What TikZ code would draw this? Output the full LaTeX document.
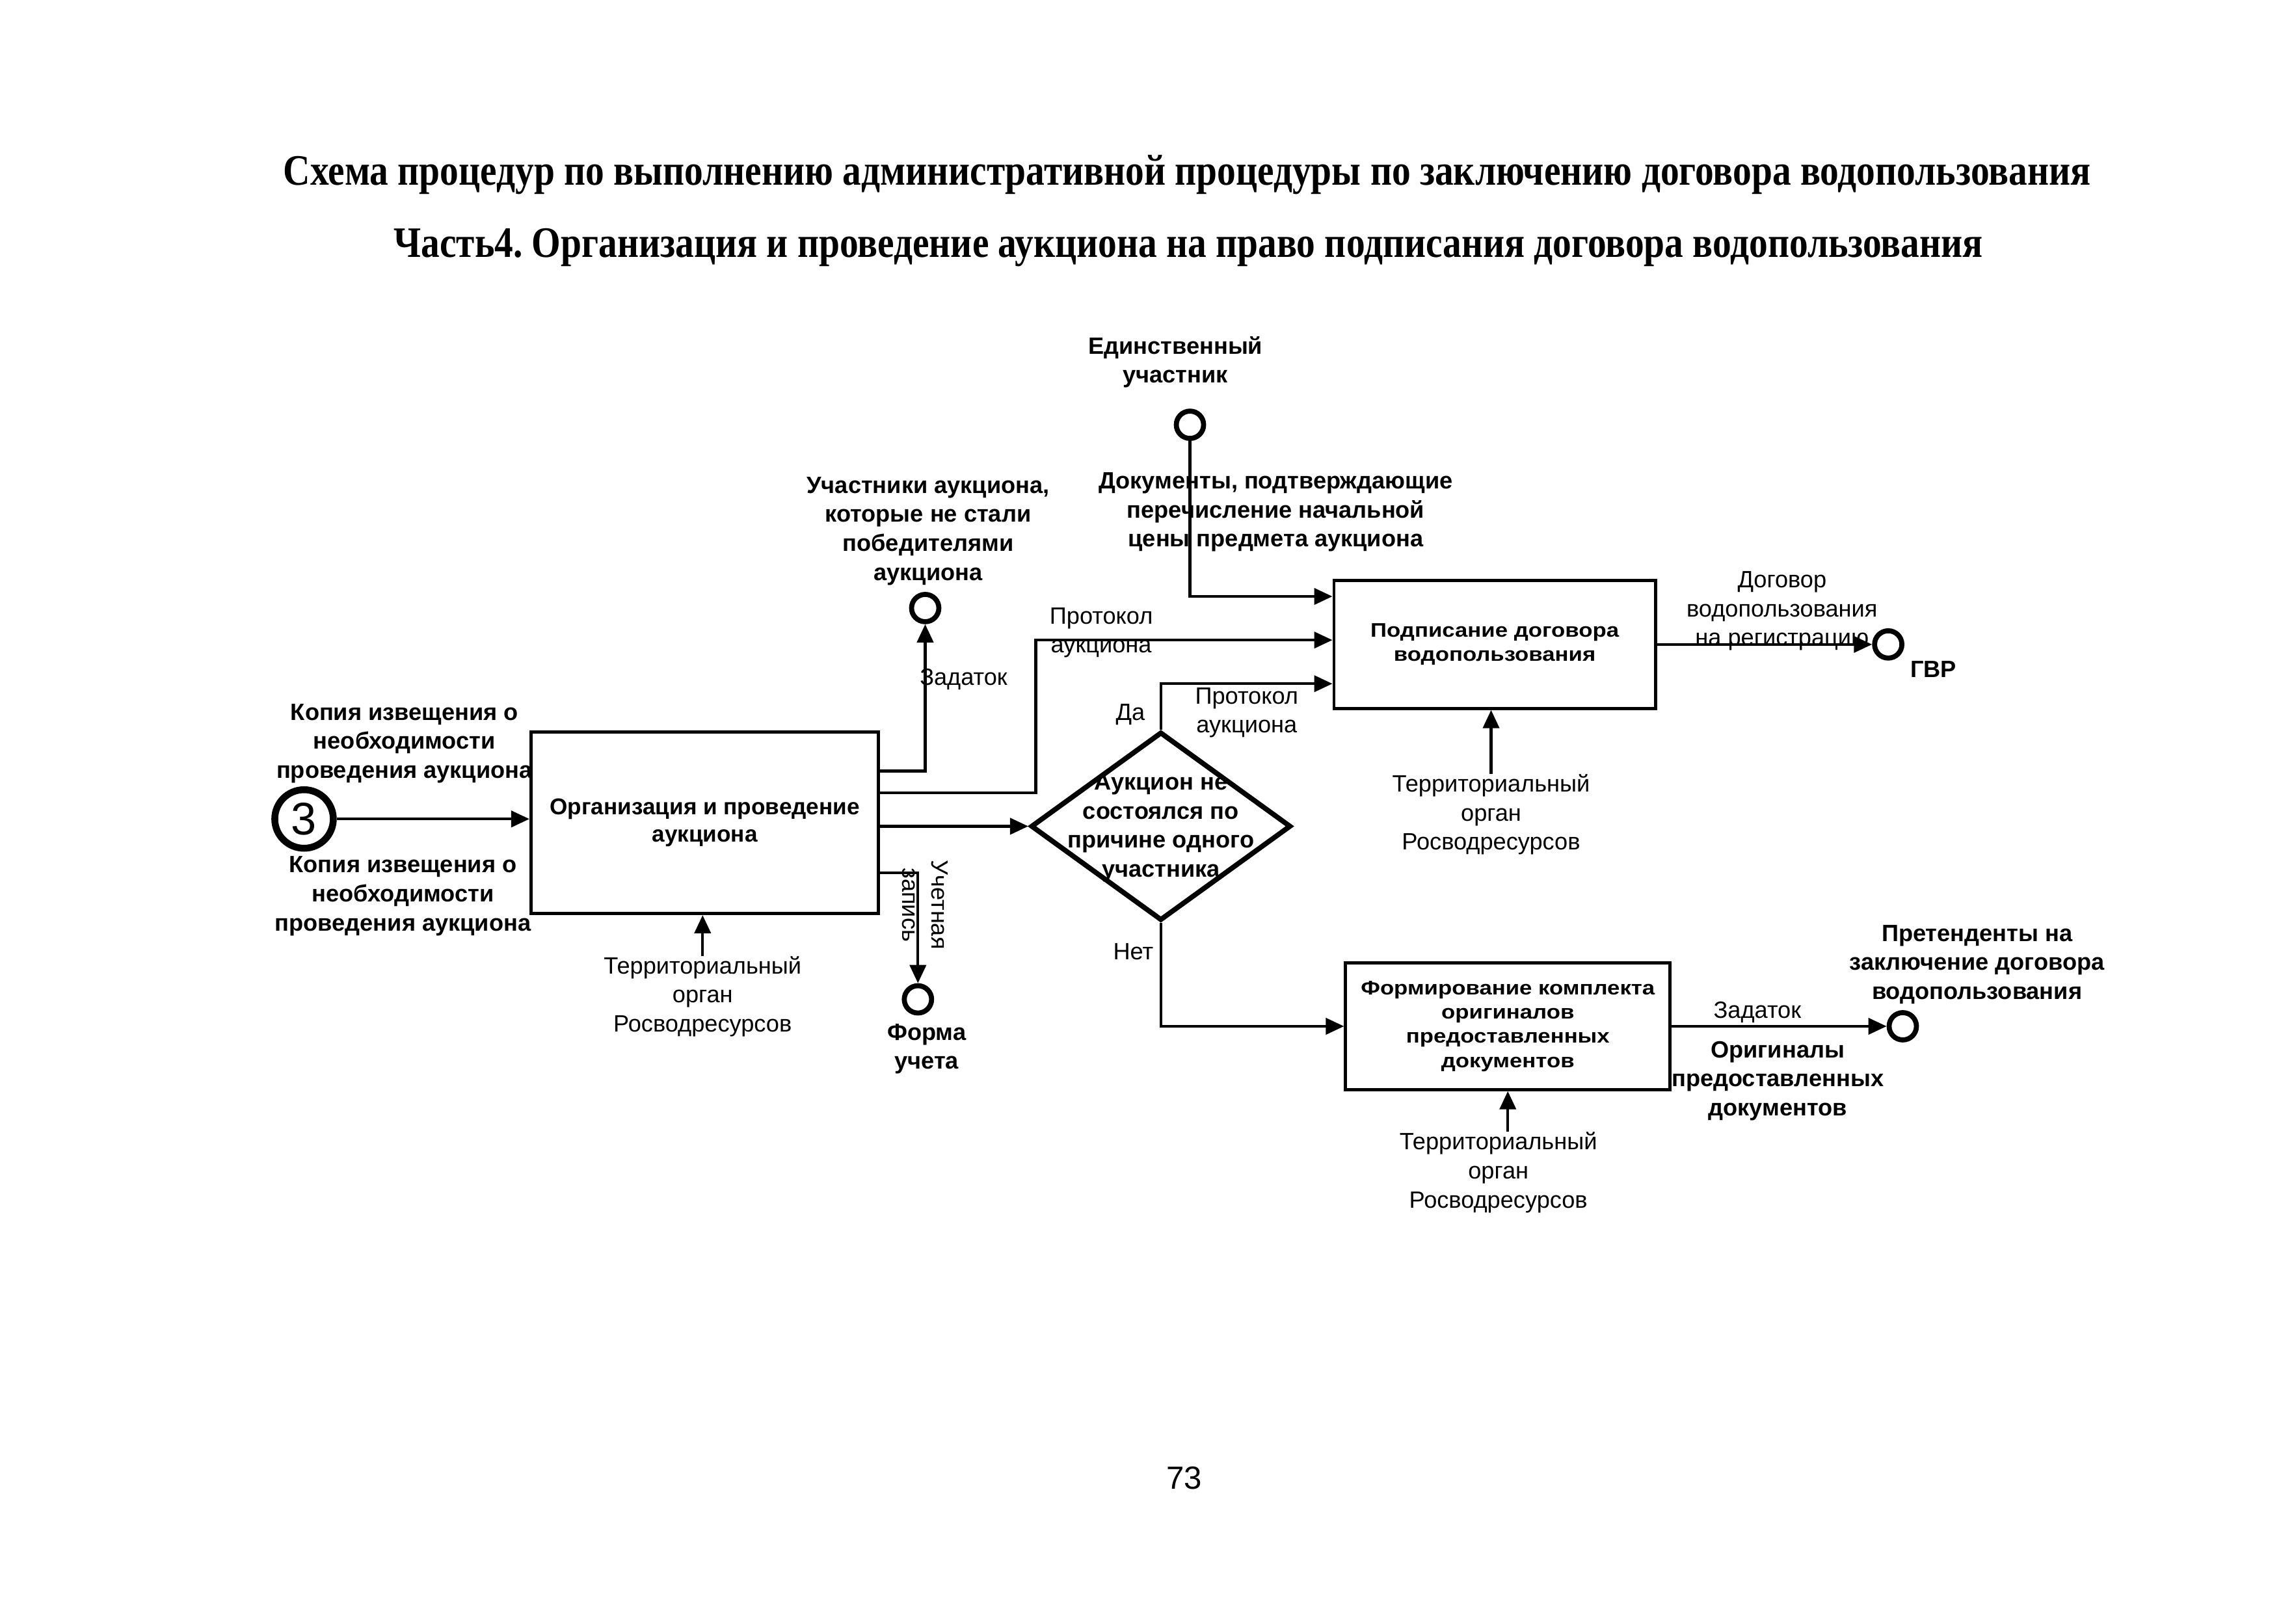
\documentclass[tikz,border=0pt]{standalone}
\usepackage{fontspec}
\setmainfont{Liberation Sans}
\newfontfamily\titlefont[FakeStretch=0.86]{Liberation Serif}
\newfontfamily\boxfont[FakeStretch=1.15]{Liberation Sans}
\usetikzlibrary{shapes,arrows.meta,positioning,calc}
\frenchspacing

\begin{document}
\begin{tikzpicture}[
    x=0.022366cm, y=-0.022366cm,
    box/.style={rectangle, draw, line width=1.4pt, align=center, inner sep=2pt, font=\bfseries\fontsize{10}{12.2}\selectfont},
    smallbox/.style={box, font=\boxfont\bfseries\fontsize{8.6}{10.6}\selectfont},
    decision/.style={diamond, draw, line width=2.2pt, inner sep=0pt, minimum width=4.0cm, minimum height=2.9cm},
    lbl/.style={align=center, inner sep=0pt, font=\fontsize{10.3}{12.7}\selectfont},
    blbl/.style={lbl, font=\bfseries\fontsize{10.3}{12.7}\selectfont},
    tunnel/.style={circle, draw, line width=2.2pt, minimum size=0.42cm, inner sep=0pt},
    arrow/.style={-{Triangle[length=2.8mm, width=2.5mm]}, line width=1.2pt},
    title/.style={inner sep=0pt, font=\titlefont\bfseries\fontsize{19}{22}\selectfont}
]
    \useasboundingbox (0,0) rectangle (1568,1116);

    \node [title] (h1) at (816,120) {Схема процедур по выполнению административной процедуры по заключению договора водопользования};
    \node [title] (h2) at (817,170) {Часть4. Организация и проведение аукциона на право подписания договора водопользования};

    \node [box, minimum width=5.345cm, minimum height=2.796cm] (n1) at (484.5,565.5) {Организация и проведение\\аукциона};
    \node [smallbox, minimum width=4.943cm, minimum height=1.968cm] (n2) at (1027.5,443) {Подписание договора\\водопользования};
    \node [smallbox, minimum width=4.988cm, minimum height=1.946cm] (n3) at (1036.5,705.5) {Формирование комплекта\\оригиналов\\предоставленных\\документов};
    \node [decision] (n4) at (798,568) {};
    \node [blbl] (n4txt) at (798,569) {Аукцион не\\состоялся по\\причине одного\\участника};

    \node [tunnel, minimum size=0.9cm, line width=3pt, font=\fontsize{20}{20}\selectfont] (t3) at (209,563) {3};
    \node [tunnel] (t1) at (818,292) {};
    \node [tunnel] (t2) at (636,418) {};
    \node [tunnel] (t4) at (631,687) {};
    \node [tunnel] (t5) at (1298,443) {};
    \node [tunnel] (t6) at (1308,705.5) {};

    \node [blbl] (in1) at (278,511) {Копия извещения о\\необходимости\\проведения аукциона};
    \node [blbl] (in2) at (277,616) {Копия извещения о\\необходимости\\проведения аукциона};
    \node [lbl] (c1) at (483,685) {Территориальный\\орган\\Росводресурсов};
    \node [lbl] (c2) at (1025,560) {Территориальный\\орган\\Росводресурсов};
    \node [lbl] (c3) at (1030,806) {Территориальный\\орган\\Росводресурсов};
    \node [blbl] (l1) at (808,249) {Единственный\\участник};
    \node [blbl] (l2) at (638,365) {Участники аукциона,\\которые не стали\\победителями\\аукциона};
    \node [blbl] (l3) at (877,352) {Документы, подтверждающие\\перечисление начальной\\цены предмета аукциона};
    \node [lbl, anchor=west] (l4) at (632,467) {Задаток};
    \node [lbl] (l5) at (757,435) {Протокол\\аукциона};
    \node [lbl] (l6) at (857,490) {Протокол\\аукциона};
    \node [lbl] (l7) at (777,491) {Да};
    \node [lbl] (l8) at (779,654) {Нет};
    \node [lbl, rotate=-90] (l9) at (636,622) {Учетная\\запись};
    \node [blbl] (l10) at (637,721) {Форма\\учета};
    \node [lbl] (l11) at (1225,420) {Договор\\водопользования\\на регистрацию};
    \node [blbl] (l12) at (1329,460) {ГВР};
    \node [lbl] (l13) at (1208,696) {Задаток};
    \node [blbl] (l14) at (1222,743) {Оригиналы\\предоставленных\\документов};
    \node [blbl] (l15) at (1359,663) {Претенденты на\\заключение договора\\водопользования};
    \node [lbl, font=\fontsize{14}{16}\selectfont] (pg) at (814,1016) {73};

    \draw [arrow] (t3) -- (t3 -| n1.west);
    \draw [arrow] (n1.east |- 0,530) -| (t2);
    \draw [arrow] (n1.east |- 0,545) -| (712,440) -- (n2.west |- 0,440);
    \draw [arrow] (n1.east |- n4.west) -- (n4.west);
    \draw [arrow] (n1.east |- 0,600) -| (t4);
    \draw [arrow] (n4.north) |- (n2.west |- 0,470);
    \draw [arrow] (n4.south) |- (n3.west);
    \draw [arrow] (t1) |- (n2.west |- 0,410);
    \draw [arrow] (c1.north) -- (c1.north |- n1.south);
    \draw [arrow] (c2.north) -- (c2.north |- n2.south);
    \draw [arrow] (c3.north -| n3.south) -- (n3.south);
    \draw [arrow] (n2.east) -- (t5);
    \draw [arrow] (n3.east) -- (t6);
\end{tikzpicture}
\end{document}
